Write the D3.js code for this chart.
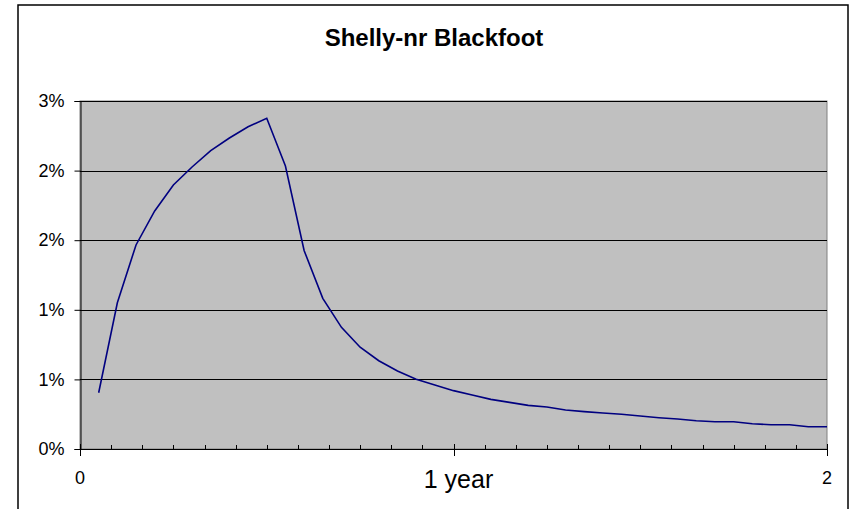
<!DOCTYPE html>
<html>
<head>
<meta charset="utf-8">
<script src="https://cdn.jsdelivr.net/npm/d3@7"></script>
<style>
  html, body { margin: 0; padding: 0; background: #fff; }
  svg { display: block; font-family: "Liberation Sans", Arial, sans-serif; }
</style>
</head>
<body>
<svg id="chart" width="856" height="509"></svg>
<script>
const title = "Shelly-nr Blackfoot";
const times = [0.05,0.10,0.15,0.20,0.25,0.30,0.35,0.40,0.45,0.50,
               0.55,0.60,0.65,0.70,0.75,0.80,0.85,0.90,0.95,1.00,
               1.05,1.10,1.15,1.20,1.25,1.30,1.35,1.40,1.45,1.50,
               1.55,1.60,1.65,1.70,1.75,1.80,1.85,1.90,1.95,2.00];
const values = [0.00485,0.01261,0.01759,0.02052,0.02276,0.02431,0.02572,0.02681,0.02778,0.02851,
                0.02440,0.01711,0.01299,0.01049,0.00877,0.00761,0.00672,0.00601,0.00552,0.00503,
                0.00466,0.00428,0.00402,0.00376,0.00362,0.00336,0.00322,0.00310,0.00299,0.00284,
                0.00270,0.00259,0.00244,0.00235,0.00235,0.00218,0.00209,0.00209,0.00192,0.00192];
const yTicks = [0, 0.006, 0.012, 0.018, 0.024, 0.030];
const yTickLabels = ["0%","1%","1%","2%","2%","3%"];
const xMajorTicks = [0, 1, 2];
const xMajorLabels = ["0", "1 year", "2"];
const xMinorTicks = [1,2,3,4,5,6,7,8,9,10,11,13,14,15,16,17,18,19,20,21,22,23].map(m => m / 12);

const svg = d3.select("#chart");
const plot = {left: 80, right: 827, top: 101, bottom: 449};

const x = d3.scaleLinear().domain([0, 2]).range([plot.left, plot.right]);
const y = d3.scaleLinear().domain([0, 0.03]).range([plot.bottom, plot.top]);

// outer chart border
svg.append("rect")
  .attr("x", 18).attr("y", 5).attr("width", 830).attr("height", 520)
  .attr("fill", "#fff").attr("stroke", "#000").attr("stroke-width", 1.5);

// title
svg.append("text")
  .attr("x", 434).attr("y", 46)
  .attr("text-anchor", "middle")
  .attr("font-weight", "bold")
  .attr("font-size", 24)
  .attr("fill", "#000")
  .text(title);

// plot area
svg.append("rect")
  .attr("x", plot.left).attr("y", plot.top)
  .attr("width", plot.right - plot.left).attr("height", plot.bottom - plot.top)
  .attr("fill", "#c0c0c0").attr("stroke", "#808080").attr("stroke-width", 1);

// gridlines
svg.append("g")
  .selectAll("line")
  .data(yTicks.filter(d => d > 0))
  .join("line")
  .attr("x1", plot.left).attr("x2", plot.right)
  .attr("y1", d => Math.round(y(d)) + 0.5).attr("y2", d => Math.round(y(d)) + 0.5)
  .attr("stroke", "#000").attr("stroke-width", 1);

// y axis
const yAxis = d3.axisLeft(y)
  .tickValues(yTicks)
  .tickSize(6)
  .tickPadding(10)
  .tickFormat((d, i) => yTickLabels[i]);
const gy = svg.append("g")
  .attr("transform", `translate(${plot.left + 0.5},0)`)
  .call(yAxis);
gy.select(".domain").attr("stroke", "#000");
gy.selectAll(".tick line").attr("stroke", "#000");
gy.selectAll(".tick text")
  .attr("font-size", 18)
  .attr("font-family", "Liberation Sans, Arial, sans-serif")
  .attr("fill", "#000");

// x axis: minor ticks inside
svg.append("g")
  .selectAll("line")
  .data(xMinorTicks)
  .join("line")
  .attr("x1", d => Math.round(x(d)) + 0.5).attr("x2", d => Math.round(x(d)) + 0.5)
  .attr("y1", plot.bottom - 4).attr("y2", plot.bottom)
  .attr("stroke", "#000").attr("stroke-width", 1);

// major ticks crossing
svg.append("g")
  .selectAll("line")
  .data(xMajorTicks)
  .join("line")
  .attr("x1", d => Math.round(x(d)) + 0.5).attr("x2", d => Math.round(x(d)) + 0.5)
  .attr("y1", plot.bottom - 5).attr("y2", plot.bottom + 7)
  .attr("stroke", "#000").attr("stroke-width", 1);

// x axis line
svg.append("line")
  .attr("x1", plot.left).attr("x2", plot.right + 1)
  .attr("y1", plot.bottom + 0.5).attr("y2", plot.bottom + 0.5)
  .attr("stroke", "#000").attr("stroke-width", 1);

// x labels
svg.append("g")
  .selectAll("text")
  .data(xMajorTicks)
  .join("text")
  .attr("x", (d, i) => x(d) + (i === 1 ? 5 : 0))
  .attr("y", (d, i) => i === 1 ? 488 : 484)
  .attr("text-anchor", "middle")
  .attr("font-size", (d, i) => i === 1 ? 25 : 18)
  .attr("fill", "#000")
  .text((d, i) => xMajorLabels[i]);

// line
const line = d3.line()
  .x((d, i) => x(times[i]))
  .y(d => y(d));
svg.append("path")
  .datum(values)
  .attr("d", line)
  .attr("fill", "none")
  .attr("stroke", "#000080")
  .attr("stroke-width", 1.6)
  .attr("stroke-linejoin", "miter");
</script>
</body>
</html>
